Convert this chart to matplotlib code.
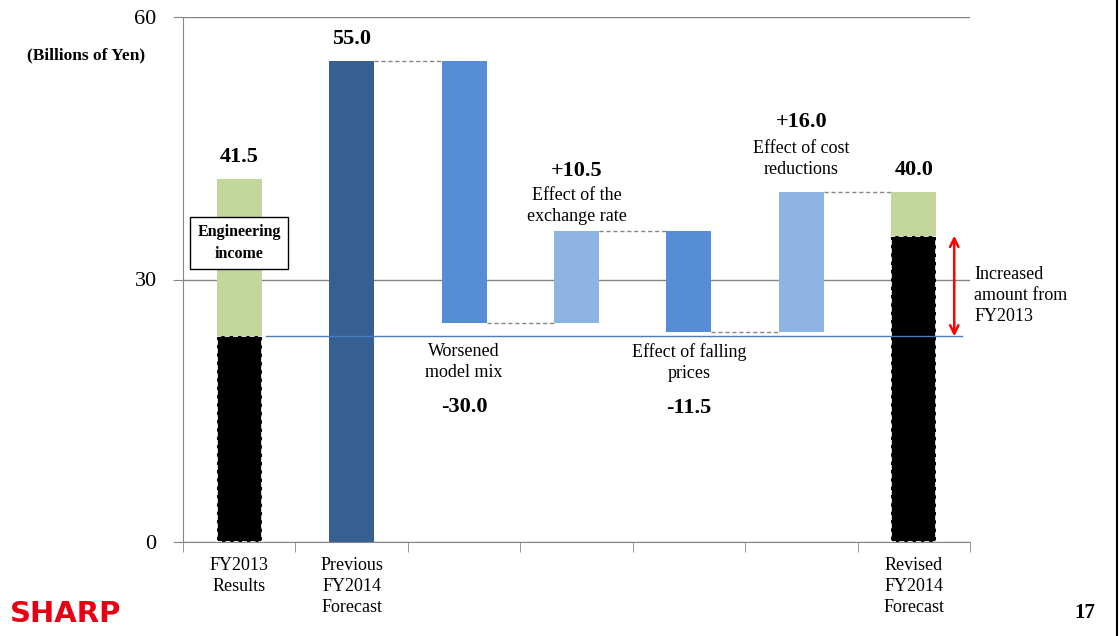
import matplotlib
matplotlib.use("Agg")
import matplotlib.pyplot as plt
from matplotlib.ticker import FixedLocator

plt.rcParams["font.family"] = ["Liberation Serif", "DejaVu Serif"]

# operating income bridge, billions of yen
categories = ["FY2013\nResults", "Previous\nFY2014\nForecast", "", "", "", "", "Revised\nFY2014\nForecast"]
fy2013_base = 23.5
fy2013_engineering = 18.0
previous_forecast = 55.0
effect_names = ["Worsened\nmodel mix", "Effect of the\nexchange rate",
                "Effect of falling\nprices", "Effect of cost\nreductions"]
effect_values = [-30.0, 10.5, -11.5, 16.0]
revised_base = 35.0
revised_engineering = 5.0

DARK = "#366092"
MID = "#558ED5"
LIGHT = "#8EB4E3"
GREEN = "#C3D69B"
GRAY = "#868686"
W = 0.4

fig = plt.figure(figsize=(11.19, 6.36), dpi=100)
ax = fig.add_axes([183 / 1119, 1 - 542 / 636, 787 / 1119, 525 / 636])
ax.set_xlim(-0.5, 6.5)
ax.set_ylim(0, 60)

# px -> points helper for offsets
px = 0.72

def total_label(x, top, text):
    ax.annotate(text, (x, top), xytext=(0, 22 * px), textcoords="offset points",
                ha="center", va="center", fontsize=16, fontweight="bold")

# FY2013 results: base + engineering income
ax.bar(0, fy2013_base, W, color="black", edgecolor="white", linestyle=(0, (3, 2)), linewidth=1.2, zorder=3)
ax.bar(0, fy2013_engineering, W, bottom=fy2013_base, color=GREEN, zorder=3)
total_label(0, fy2013_base + fy2013_engineering, f"{fy2013_base + fy2013_engineering:.1f}")

# previous forecast
ax.bar(1, previous_forecast, W, color=DARK, zorder=3)
total_label(1, previous_forecast, f"{previous_forecast:.1f}")

# waterfall of effects
label_offsets = [(39, 84), (-25, -60), (31, 76), (-33, -70)]
level = previous_forecast
levels = [level]
for i, (name, val) in enumerate(zip(effect_names, effect_values)):
    x = 2 + i
    new_level = level + val
    bottom = min(level, new_level)
    ax.bar(x, abs(val), W, bottom=bottom, color=MID if val < 0 else LIGHT, zorder=3)
    anchor = bottom if val < 0 else bottom + abs(val)
    d_off, v_off = label_offsets[i]
    ax.annotate(name, (x, anchor), xytext=(0, -d_off * px), textcoords="offset points",
                ha="center", va="center", fontsize=13, linespacing=1.3)
    ax.annotate(f"{val:+.1f}", (x, anchor), xytext=(0, -v_off * px), textcoords="offset points",
                ha="center", va="center", fontsize=16, fontweight="bold")
    level = new_level
    levels.append(level)

# revised forecast
ax.bar(6, revised_base, W, color="black", edgecolor="white", linestyle=(0, (3, 2)), linewidth=1.2, zorder=3)
ax.bar(6, revised_engineering, W, bottom=revised_base, color=GREEN, zorder=3)
total_label(6, revised_base + revised_engineering, f"{revised_base + revised_engineering:.1f}")

# dashed connectors between neighbouring bars
for i, lv in enumerate(levels):
    ax.plot([1 + i + W / 2, 2 + i - W / 2], [lv, lv], color=GRAY, ls=(0, (3, 2)), lw=1, zorder=2)

# FY2013 base reference line and increase arrow
ax.plot([0.238, 6.43], [fy2013_base, fy2013_base], color="#4A7EBB", lw=1, zorder=4, clip_on=False)
ax.annotate("", xy=(6.36, revised_base), xytext=(6.36, fy2013_base),
            arrowprops=dict(arrowstyle="<->,head_length=0.6,head_width=0.3", color="red", lw=1.8,
                            shrinkA=0, shrinkB=0), annotation_clip=False)
ax.text(6.54, 28.2, "Increased\namount from\nFY2013", ha="left", va="center", fontsize=13,
        linespacing=1.3, clip_on=False)

ax.text(0, 34.2, "Engineering\nincome", ha="center", va="center", fontsize=11.5, fontweight="bold",
        linespacing=1.5, zorder=5,
        bbox=dict(boxstyle="square,pad=0.45", facecolor="white", edgecolor="black", lw=1))

# axes styling
for s in ["top", "right"]:
    ax.spines[s].set_visible(False)
for s in ["left", "bottom"]:
    ax.spines[s].set_color(GRAY)
ax.set_yticks([0, 30, 60])
ax.set_yticklabels(["0", "30", "60"], fontsize=16)
ax.tick_params(axis="y", length=7, color=GRAY, pad=12)
ax.yaxis.grid(True, color=GRAY, lw=1)
ax.set_axisbelow(True)
ax.set_xticks(range(7))
ax.set_xticklabels(categories, fontsize=13, linespacing=1.3, va="top")
ax.tick_params(axis="x", which="major", length=0, pad=11)
ax.xaxis.set_minor_locator(FixedLocator([i - 0.5 for i in range(8)]))
ax.tick_params(axis="x", which="minor", length=7, color=GRAY)

fig.text(86 / 1119, 1 - 55 / 636, "(Billions of Yen)", ha="center", va="center",
         fontsize=12.5, fontweight="bold")
fig.text(10 / 1119, 1 - 614 / 636, "SHARP", ha="left", va="center", fontsize=21,
         fontweight="heavy", color="#E60012", family="DejaVu Sans")
fig.text(1085 / 1119, 1 - 613 / 636, "17", ha="center", va="center", fontsize=15, fontweight="bold")
fig.add_artist(plt.Line2D([1117 / 1119, 1117 / 1119], [0, 1], color="black", lw=1.5))

fig.savefig("out.png", dpi=100)
